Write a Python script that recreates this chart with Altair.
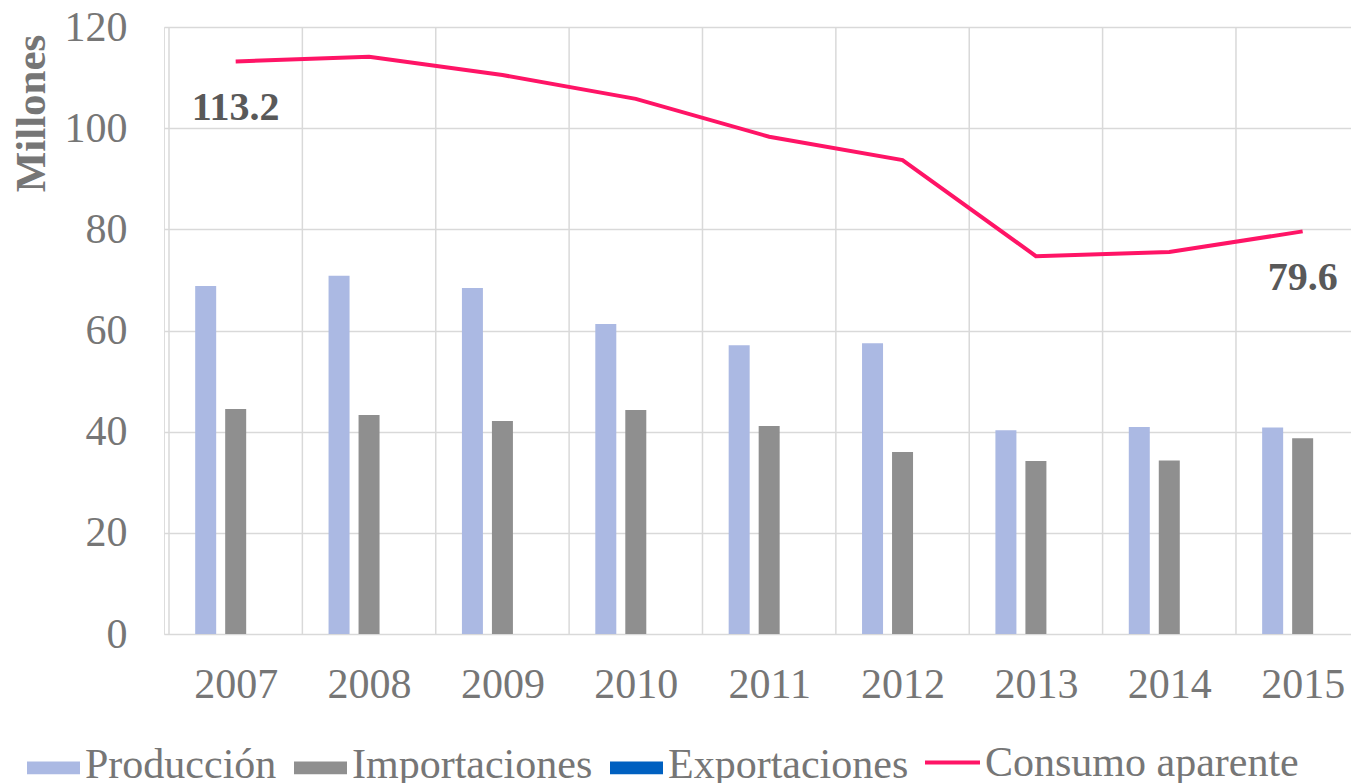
import altair as alt
import pandas as pd

# ---- data ----
years = [2007, 2008, 2009, 2010, 2011, 2012, 2013, 2014, 2015]
produccion = [68.8, 70.8, 68.4, 61.3, 57.1, 57.5, 40.3, 40.9, 40.8]
importaciones = [44.5, 43.3, 42.1, 44.3, 41.1, 36.0, 34.2, 34.3, 38.7]
exportaciones = [0, 0, 0, 0, 0, 0, 0, 0, 0]
consumo = [113.2, 114.1, 110.5, 105.8, 98.3, 93.7, 74.7, 75.5, 79.6]

bar_series = ["Producción", "Importaciones", "Exportaciones"]
bar_colors = ["#ABB9E3", "#8F8F8F", "#0060C0"]
line_series = "Consumo aparente"
line_color = "#FF1466"
y_ticks = [0, 20, 40, 60, 80, 100, 120]
category_edges = [2006.5, 2007.5, 2008.5, 2009.5, 2010.5, 2011.5, 2012.5, 2013.5, 2014.5]
axis_title = "Millones"

FONT = "Liberation Serif"
TEXT = "#767676"
GRID = "#D9D9D9"

df = pd.DataFrame({
    "year": years,
    "Producción": produccion,
    "Importaciones": importaciones,
    "Exportaciones": exportaciones,
    "consumo": consumo,
    "linea": [line_series] * len(years),
})
long = df.melt(id_vars="year", value_vars=bar_series, var_name="serie", value_name="valor")
labels_df = pd.DataFrame({"year": [years[0], years[-1]], "consumo": [consumo[0], consumo[-1]]})
edges_df = pd.DataFrame({"edge": category_edges})

x_scale = alt.Scale(domain=[2006.5, 2015.325], nice=False, zero=False)
y_scale = alt.Scale(domain=[0, 120], nice=False)

x_axis = alt.Axis(values=years, format="d", title=None, grid=False, domain=False, ticks=False,
                  tickSize=0, labelFont=FONT, labelFontSize=42, labelColor=TEXT,
                  labelBaseline="alphabetic", labelPadding=63, labelFlush=False,
                  labelOverlap=False, orient="bottom")
y_axis = alt.Axis(values=y_ticks, title=axis_title, grid=True, gridColor=GRID, gridWidth=1.5,
                  domain=False, ticks=False, tickSize=0, labelFont=FONT, labelFontSize=42,
                  labelColor=TEXT, labelPadding=37, titleFont=FONT, titleFontSize=43,
                  titleFontWeight="bold", titleColor=TEXT, titleAngle=270, titleX=-120,
                  titleY=86, titleAlign="center", titleBaseline="alphabetic")

bar_legend = alt.Legend(orient="none", legendX=-137, legendY=711, direction="horizontal",
                        title=None, symbolType="M-1,-0.12H1V0.36H-1Z", symbolSize=2809,
                        symbolStrokeWidth=0, symbolOpacity=1, labelFont=FONT,
                        labelFontSize=42, labelColor=TEXT, labelOffset=5,
                        columnPadding=17, labelLimit=0)
line_legend = alt.Legend(orient="none", legendX=759, legendY=706, direction="horizontal",
                         title=None, symbolType="M-1,0H1", symbolSize=3025,
                         symbolStrokeWidth=4, labelFont=FONT, labelFontSize=42,
                         labelColor=TEXT, labelOffset=3, labelLimit=0)

color = alt.Color("serie:N", scale=alt.Scale(domain=bar_series, range=bar_colors),
                  legend=bar_legend)

edges = alt.Chart(edges_df).mark_rule(color=GRID, strokeWidth=1.5).encode(
    x=alt.X("edge:Q", scale=x_scale, axis=x_axis)
)

layers = [edges]
for s, off in zip(bar_series, [-30, 0, 30]):
    layers.append(
        alt.Chart(long).transform_filter(alt.datum.serie == s)
        .mark_bar(width=21, xOffset=off)
        .encode(
            x=alt.X("year:Q", scale=x_scale, axis=x_axis),
            y=alt.Y("valor:Q", scale=y_scale, axis=y_axis),
            color=color,
        )
    )

line = alt.Chart(df).mark_line(strokeWidth=4, interpolate="linear").encode(
    x=alt.X("year:Q", scale=x_scale, axis=x_axis),
    y=alt.Y("consumo:Q", scale=y_scale, axis=y_axis),
    stroke=alt.Stroke("linea:N", scale=alt.Scale(domain=[line_series], range=[line_color]),
                      legend=line_legend),
)
layers.append(line)

text = alt.Chart(labels_df).mark_text(font=FONT, fontSize=40, fontWeight="bold",
                                      color="#595959", baseline="alphabetic", dy=59).encode(
    x=alt.X("year:Q", scale=x_scale, axis=x_axis),
    y=alt.Y("consumo:Q", scale=y_scale, axis=y_axis),
    text=alt.Text("consumo:Q", format=".1f"),
)
layers.append(text)

chart = alt.layer(*layers).properties(
    width=1187, height=607,
    autosize=alt.AutoSizeParams(type="none"),
    padding={"left": 156, "top": 19, "right": 0, "bottom": 149},
).configure_view(fill="#F3F3F3", strokeWidth=0).configure(background="white")

chart.save("out.html", embed_options={"renderer": "svg", "actions": False})
